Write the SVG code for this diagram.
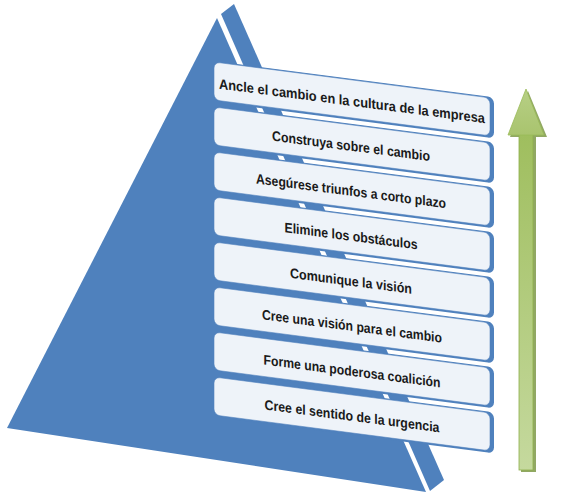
<svg xmlns="http://www.w3.org/2000/svg" width="562" height="500" viewBox="0 0 562 500">
<defs>
<style>
.face{fill:#4f81bd}
.back{fill:#4f81bd}
.front{fill:#ffffff;fill-opacity:0.9;stroke:#4f81bd;stroke-width:0.8;stroke-opacity:0.7}
.lbl{font-family:"Liberation Sans",Arial,sans-serif;font-weight:bold;font-size:14px;fill:#1a1a1a;text-anchor:middle}
</style>
<linearGradient id="gShaft" x1="0" y1="0" x2="0" y2="1">
<stop offset="0" stop-color="#9fbe5e"/>
<stop offset="1" stop-color="#c5d99e"/>
</linearGradient>
<linearGradient id="gHead" x1="0" y1="0" x2="0" y2="1">
<stop offset="0" stop-color="#b7cf85"/>
<stop offset="1" stop-color="#a9c46e"/>
</linearGradient>
</defs>
<rect width="562" height="500" fill="#ffffff"/>
<g id="pyramid">
<polygon class="face" points="217,18 7,428 426,492"/>
<polygon class="face" points="221,14 234,4 444,480 430,491"/>
</g>
<g id="bars" transform="matrix(1,0.13,0,1,0,-27.82)">
<g id="bar8">
<rect class="back" x="216" y="61" width="278" height="41" rx="6"/>
<rect class="front" x="214" y="62" width="276" height="38" rx="6"/>
<text class="lbl" x="352" y="88" textLength="266" lengthAdjust="spacingAndGlyphs">Ancle el cambio en la cultura de la empresa</text>
</g>
<g id="bar7">
<rect class="back" x="216" y="106" width="278" height="41" rx="6"/>
<rect class="front" x="214" y="107" width="276" height="38" rx="6"/>
<text class="lbl" x="351" y="133" textLength="158" lengthAdjust="spacingAndGlyphs">Construya sobre el cambio</text>
</g>
<g id="bar6">
<rect class="back" x="216" y="151" width="278" height="41" rx="6"/>
<rect class="front" x="214" y="152" width="276" height="38" rx="6"/>
<text class="lbl" x="351" y="178" textLength="190" lengthAdjust="spacingAndGlyphs">Asegúrese triunfos a corto plazo</text>
</g>
<g id="bar5">
<rect class="back" x="216" y="196" width="278" height="41" rx="6"/>
<rect class="front" x="214" y="197" width="276" height="38" rx="6"/>
<text class="lbl" x="351" y="223" textLength="133" lengthAdjust="spacingAndGlyphs">Elimine los obstáculos</text>
</g>
<g id="bar4">
<rect class="back" x="216" y="241" width="278" height="41" rx="6"/>
<rect class="front" x="214" y="242" width="276" height="38" rx="6"/>
<text class="lbl" x="351" y="268" textLength="122" lengthAdjust="spacingAndGlyphs">Comunique la visión</text>
</g>
<g id="bar3">
<rect class="back" x="216" y="286" width="278" height="41" rx="6"/>
<rect class="front" x="214" y="287" width="276" height="38" rx="6"/>
<text class="lbl" x="352" y="313" textLength="180" lengthAdjust="spacingAndGlyphs">Cree una visión  para el cambio</text>
</g>
<g id="bar2">
<rect class="back" x="216" y="331" width="278" height="41" rx="6"/>
<rect class="front" x="214" y="332" width="276" height="38" rx="6"/>
<text class="lbl" x="352" y="358" textLength="177" lengthAdjust="spacingAndGlyphs">Forme una poderosa coalición</text>
</g>
<g id="bar1">
<rect class="back" x="216" y="376" width="278" height="41" rx="6"/>
<rect class="front" x="214" y="377" width="276" height="38" rx="6"/>
<text class="lbl" x="352" y="403" textLength="175" lengthAdjust="spacingAndGlyphs">Cree el sentido de la urgencia</text>
</g>
</g>
<g id="arrow">
<polygon points="528,91 510,137 521,137 521,472 536,472 536,137 547,137" fill="#76923c" opacity="0.8"/>
<rect x="519" y="134" width="14" height="336" fill="url(#gShaft)" stroke="#8eb04c" stroke-width="0.8"/>
<polygon points="526,89 508,135 544,135" fill="url(#gHead)" stroke="#9bbb59" stroke-width="0.8"/>
</g>
</svg>
